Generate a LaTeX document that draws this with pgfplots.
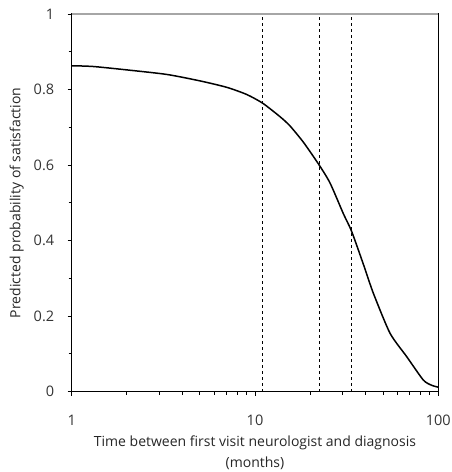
\documentclass[border=0pt]{standalone}
\usepackage{fontspec}
\setmainfont{Open Sans}
\usepackage{pgfplots}
\pgfplotsset{compat=1.18}

\begin{document}
\begin{tikzpicture}
\begin{axis}[
    scale only axis,
    width=366.6pt, height=377.7pt,
    xmode=log, xmin=1, xmax=100,
    ymin=0, ymax=1,
    log ticks with fixed point,
    xtick={1,10,100},
    ytick={0,0.2,0.4,0.6,0.8,1},
    yticklabels={0,0.2,0.4,0.6,0.8,1},
    minor y tick num=1,
    tick align=outside,
    xtick pos=left, ytick pos=left,
    major tick length=4pt, minor tick length=3pt,
    every tick/.style={black, line width=0.9pt},
    axis line style={black, line width=1.1pt},
    /pgf/number format/assume math mode=true,
    tick label style={font=\fontsize{14.5}{16}\selectfont, color=black!80},
    xticklabel style={yshift=-16pt},
    yticklabel style={xshift=-10pt},
    xlabel={Time between first visit neurologist and diagnosis\\(months)},
    xlabel style={font=\fontsize{14}{21}\selectfont, align=center, color=black!85, yshift=-3pt},
    ylabel={Predicted probability of satisfaction},
    ylabel style={font=\fontsize{14}{16}\selectfont, color=black!85, yshift=3pt},
    clip=false,
]
% quartile markers
\addplot[black, dashed, line width=0.8pt] coordinates {(11,0) (11,1)};
\addplot[black, dashed, line width=0.8pt] coordinates {(22.4,0) (22.4,1)};
\addplot[black, dashed, line width=0.8pt] coordinates {(33.7,0) (33.7,1)};
% predicted probability
\addplot[black, line width=1.5pt, smooth, tension=0.4] coordinates {
    (1,0.863) (1.31,0.861) (2.0,0.852) (3.3,0.840) (5.0,0.823)
    (7.0,0.806) (9.0,0.787) (11,0.764) (13.7,0.728) (15.5,0.704)
    (18.4,0.660) (22.4,0.600) (25.7,0.552) (30.3,0.472) (33.7,0.424)
    (39.5,0.330) (44.2,0.261) (54.5,0.155) (67.2,0.093) (82.8,0.031)
    (92,0.017) (100,0.012)
};
\draw[gray!70, line width=1.1pt] (rel axis cs:0,1) -- (rel axis cs:1,1);
\end{axis}
\pgfresetboundingbox
\path (current axis.south west) ++(-71.7pt,-80.3pt) coordinate (bl);
\path (current axis.north east) ++(13.7pt,14pt) coordinate (tr);
\path[use as bounding box] (bl) rectangle (tr);
\end{tikzpicture}
\end{document}
